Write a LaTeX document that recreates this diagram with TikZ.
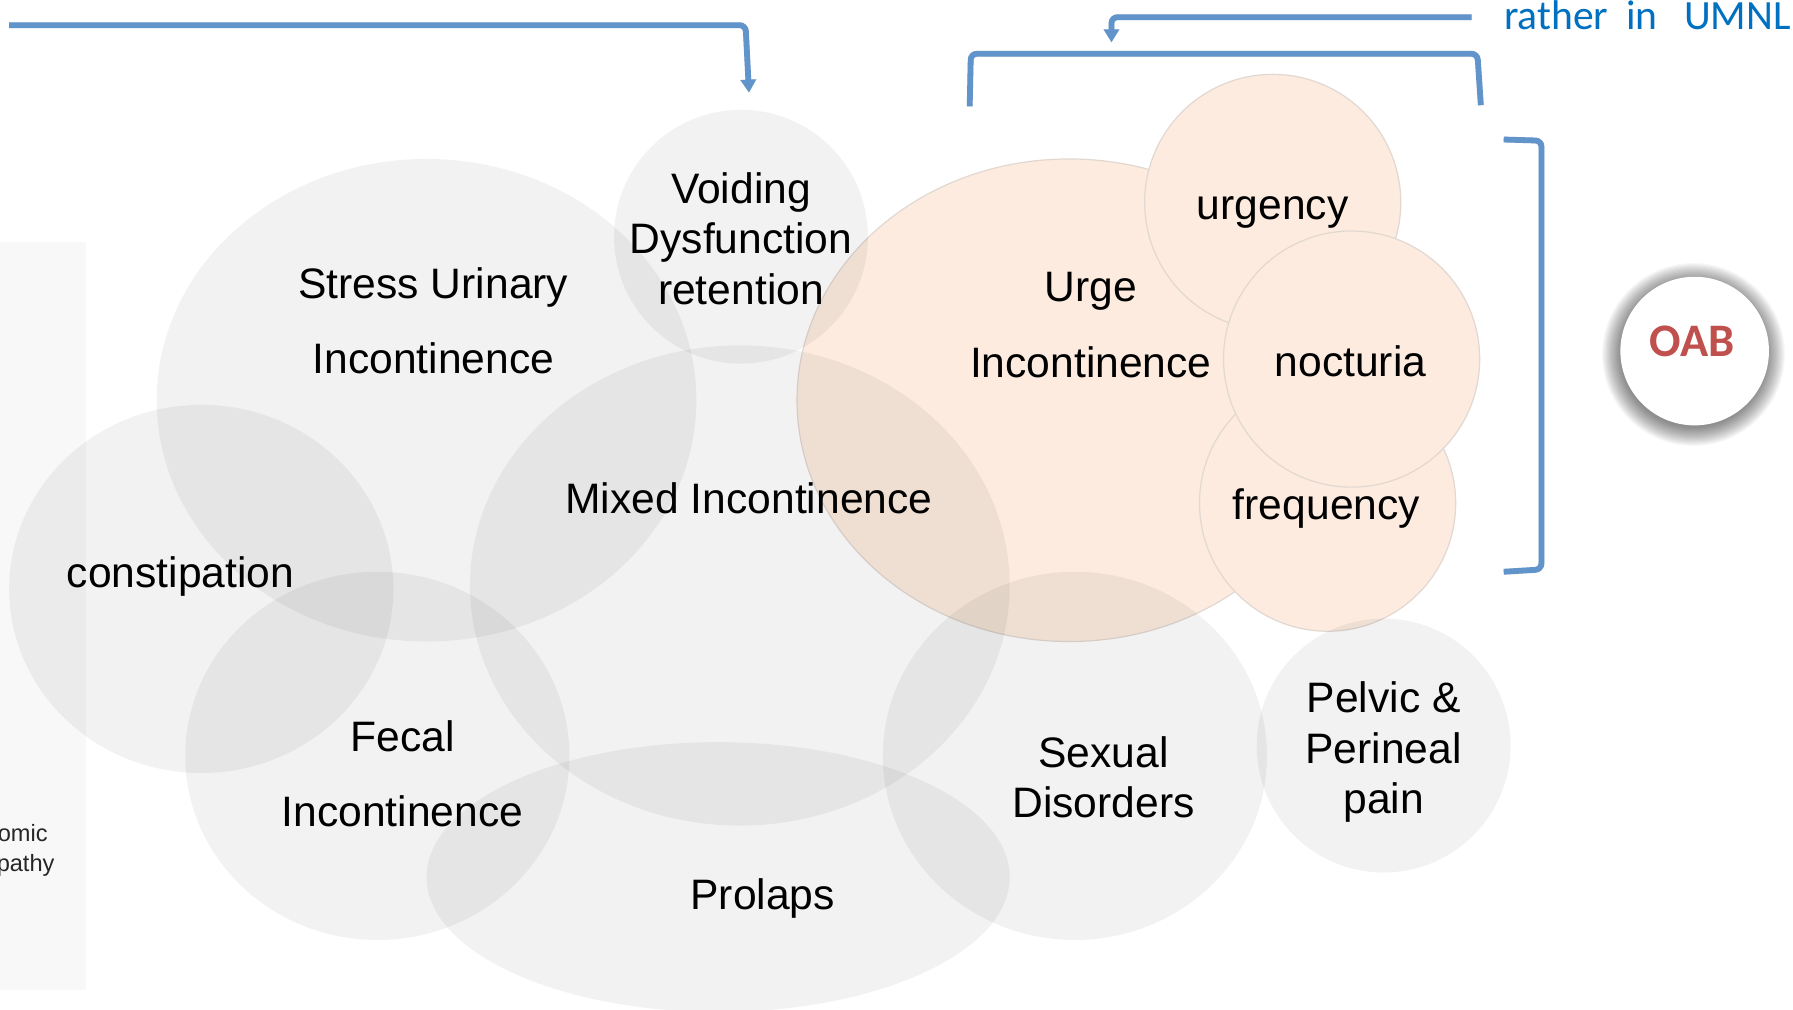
\documentclass[tikz,border=0pt]{standalone}
\usepackage{fontspec}
\setmainfont{Liberation Sans}
\newfontfamily\carlito{Carlito}
\usetikzlibrary{arrows.meta}
\definecolor{peach}{RGB}{252,235,222}
\definecolor{peachedge}{RGB}{226,216,210}
\definecolor{linkblue}{RGB}{98,148,204}
\definecolor{umnblue}{RGB}{0,112,192}
\definecolor{oabred}{RGB}{192,80,77}
\definecolor{panelgray}{RGB}{248,248,248}
\begin{document}
\begin{tikzpicture}[x=0.57175pt,y=-0.57175pt,
  graybub/.style={fill=black,fill opacity=0.05},
  peachbub/.style={fill=peach,draw=peachedge,line width=0.6pt},
  lbl/.style={font=\fontsize{21.3}{25}\selectfont,anchor=base,inner sep=0pt},
  smalllbl/.style={font=\fontsize{11.8}{13}\selectfont,anchor=base east,inner sep=0pt,text=black!85},
  bluelink/.style={draw=linkblue,line width=2.9pt,rounded corners=3pt},
  linkshadow/.style={draw=black,draw opacity=0.16,fill opacity=0.16,line width=2.9pt,rounded corners=3pt},
  tip/.style={-{Triangle[width=7.5pt,length=6.5pt]}}
]
\clip (0,0) rectangle (1568,883);
\fill[white] (0,0) rectangle (1568,883);
% left panel
\fill[panelgray] (0,212) rectangle (75,866);
\node[smalllbl] (omic) at (42,736) {omic};
\node[smalllbl] (pathy) at (48,762) {pathy};

% peach bubbles
\path[peachbub] (935,350) ellipse [x radius=238, y radius=211];
\path[peachbub] (1113,177) circle [radius=112];
\path[peachbub] (1161,440) circle [radius=112];
\path[peachbub] (1182,314) circle [radius=112];

% gray bubbles
\path[graybub] (373,350) ellipse [x radius=236, y radius=211];
\path[graybub] (648,207) circle [radius=111];
\path[graybub] (176,515) ellipse [x radius=168, y radius=161];
\path[graybub] (647,512) ellipse [x radius=236, y radius=210];
\path[graybub] (330,661) ellipse [x radius=168, y radius=161];
\path[graybub] (628,767) ellipse [x radius=255, y radius=118];
\path[graybub] (940,661) ellipse [x radius=168, y radius=161];
\path[graybub] (1210,652) circle [radius=111];

% labels
\node[lbl] (sui1) at (379,261) {Stress Urinary};
\node[lbl] (sui2) at (379,327) {Incontinence};
\node[lbl] (vd1) at (648,178) {Voiding};
\node[lbl] (vd2) at (648,222) {Dysfunction};
\node[lbl] (vd3) at (648,266) {retention};
\node[lbl] (ui1) at (954,264) {Urge};
\node[lbl] (ui2) at (954,330) {Incontinence};
\node[lbl] (urg) at (1113,192) {urgency};
\node[lbl] (noc) at (1181,329) {nocturia};
\node[lbl] (frq) at (1160,454) {frequency};
\node[lbl] (mix) at (655,449) {Mixed Incontinence};
\node[lbl] (con) at (158,514) {constipation};
\node[lbl] (fi1) at (352,657) {Fecal};
\node[lbl] (fi2) at (352,723) {Incontinence};
\node[lbl] (pro) at (667,795) {Prolaps};
\node[lbl] (sd1) at (965,671) {Sexual};
\node[lbl] (sd2) at (965,715) {Disorders};
\node[lbl] (pp1) at (1210,623) {Pelvic \&};
\node[lbl] (pp2) at (1210,668) {Perineal};
\node[lbl] (pp3) at (1210,711) {pain};

% OAB with soft shadow
\foreach \r in {64,...,80}
  \fill[black,opacity=0.03] (1481,310) circle [radius=\r];
\node[circle,minimum size=74.3pt,inner sep=0pt,fill=white] (oab) at (1482,307) {};
\node[font=\carlito\bfseries\fontsize{23.3}{26}\selectfont,text=oabred,anchor=base,inner sep=0pt] (oabt) at (1480,312) {OAB};

% UMNL note
\node[font=\carlito\fontsize{20.8}{24}\selectfont,text=umnblue,anchor=base west,inner sep=0pt] (umn) at (1315,25.4) {rather\kern0.2em\ in\kern0.42em\ UMNL};

% connectors
\coordinate (a1s) at (8,22);
\coordinate (a1c) at (652,22);
\coordinate (a1e) at (655,81);
\coordinate (a2s) at (1287,15);
\coordinate (a2c) at (972,15);
\coordinate (a2e) at (972,37);
\coordinate (b1a) at (848,93);
\coordinate (b1b) at (849,47);
\coordinate (b1c) at (1292,47);
\coordinate (b1d) at (1295,92);
\coordinate (b2a) at (1315,122);
\coordinate (b2b) at (1348,123);
\coordinate (b2c) at (1348,498);
\coordinate (b2d) at (1315,500);
\begin{scope}[shift={(1.5,3)}]
\draw[linkshadow,tip] (a1s) -- (a1c) -- (a1e);
\draw[linkshadow,tip] (a2s) -- (a2c) -- (a2e);
\draw[linkshadow] (b1a) -- (b1b) -- (b1c) -- (b1d);
\draw[linkshadow] (b2a) -- (b2b) -- (b2c) -- (b2d);
\end{scope}
\draw[bluelink,tip] (a1s) -- (a1c) -- (a1e);
\draw[bluelink,tip] (a2s) -- (a2c) -- (a2e);
\draw[bluelink] (b1a) -- (b1b) -- (b1c) -- (b1d);
\draw[bluelink] (b2a) -- (b2b) -- (b2c) -- (b2d);
\end{tikzpicture}
\end{document}
